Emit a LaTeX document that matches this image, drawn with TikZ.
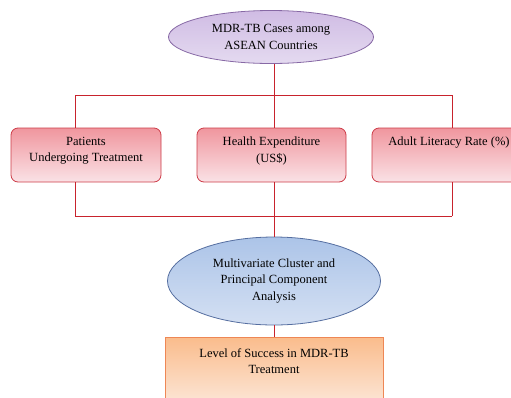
\documentclass[tikz,border=0pt]{standalone}
\usepackage{fontspec}
\setmainfont{Liberation Serif}
\usetikzlibrary{shapes.geometric}
\definecolor{linkred}{RGB}{200,35,45}
\definecolor{sourcetop}{RGB}{208,188,228}
\definecolor{sourcebot}{RGB}{228,218,240}
\definecolor{sourceline}{RGB}{135,105,165}
\definecolor{factortop}{RGB}{240,150,158}
\definecolor{factorbot}{RGB}{250,226,230}
\definecolor{factorline}{RGB}{205,60,72}
\definecolor{methodtop}{RGB}{172,196,232}
\definecolor{methodbot}{RGB}{212,224,243}
\definecolor{methodline}{RGB}{85,110,160}
\definecolor{outcometop}{RGB}{250,188,140}
\definecolor{outcomebot}{RGB}{252,232,218}
\definecolor{outcomeline}{RGB}{238,135,85}
\tikzstyle{oval}=[ellipse, draw, line width=0.8pt, inner sep=0pt, align=center]
\tikzstyle{factor}=[rectangle, rounded corners=7pt, draw=factorline, line width=0.8pt, top color=factortop, bottom color=factorbot, inner xsep=3pt, inner ysep=4pt]
\tikzset{link/.style={draw=linkred, line width=0.8pt}}
\newcommand{\toptext}[2]{\parbox[c][46pt][t]{#1}{\vspace*{5pt}\centering #2}}

\begin{document}
\begin{tikzpicture}[x=1pt, y=-1pt, font=\fontsize{12.5}{16.5}\selectfont]
  \useasboundingbox (0,0) rectangle (511,397);
  \clip (0,0) rectangle (511,397);

  %% Nodes
  \draw (271,37) node[oval, minimum width=205pt, minimum height=53pt, draw=sourceline, top color=sourcetop, bottom color=sourcebot] (E1) {MDR-TB Cases among\\ASEAN Countries};

  \draw (86,155) node[factor] (B1) {\toptext{144pt}{Patients\\Undergoing Treatment}};
  \draw (271.5,155) node[factor] (B2) {\toptext{143pt}{Health Expenditure\\(US\$)}};
  \draw (449,155) node[factor] (B3) {\toptext{148pt}{Adult Literacy Rate (\%)}};

  \draw (274,281) node[oval, minimum width=213pt, minimum height=88pt, draw=methodline, top color=methodtop, bottom color=methodbot] (E2) {Multivariate Cluster and\\Principal Component\\Analysis};

  \draw (274,372) node[rectangle, draw=outcomeline, line width=0.8pt, top color=outcometop, bottom color=outcomebot, minimum width=218pt, minimum height=70pt, align=center, text depth=22pt] (R1) {Level of Success in MDR-TB\\Treatment};

  %% Connectors
  \coordinate (topL) at (75,95);
  \coordinate (topM) at (274,95);
  \coordinate (topR) at (452,95);
  \coordinate (botL) at (75,216);
  \coordinate (botR) at (452,216);

  \draw[link] (topL) -- (topR);
  \draw[link] (topL) -- (topL |- B1.north);
  \draw[link] (topR) -- (topR |- B3.north);
  \draw[link] (E1.south -| topM) -- (topM |- B2.north);

  \draw[link] (botL) -- (botR);
  \draw[link] (botL) -- (botL |- B1.south);
  \draw[link] (botR) -- (botR |- B3.south);
  \draw[link] (topM |- B2.south) -- (E2.north);
  \draw[link] (E2.south) -- (R1.north);
\end{tikzpicture}
\end{document}
